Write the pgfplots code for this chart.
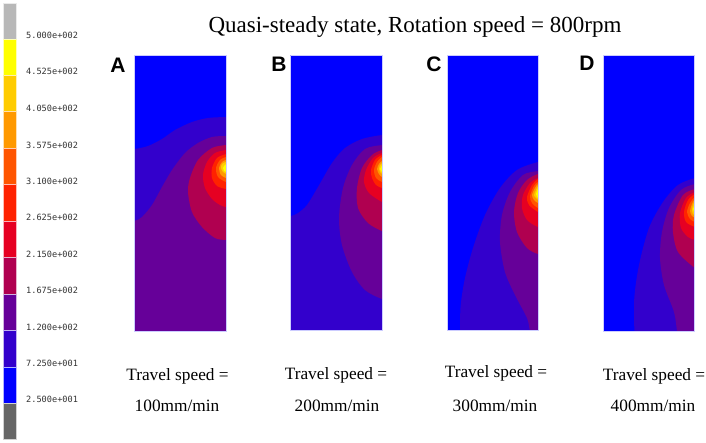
\documentclass[border=0pt]{standalone}
\usepackage{fontspec}
\setmainfont{Liberation Serif}
\newfontfamily\lettersf{Liberation Sans}
\newfontfamily\barfont{DejaVu Sans Mono}
\usepackage{pgfplots}
\pgfplotsset{compat=1.18}

\definecolor{c0}{HTML}{0000FF}
\definecolor{c1}{HTML}{3300CC}
\definecolor{c2}{HTML}{660099}
\definecolor{c3}{HTML}{B00050}
\definecolor{c4}{HTML}{E60022}
\definecolor{c5}{HTML}{FF2200}
\definecolor{c6}{HTML}{FF5500}
\definecolor{c7}{HTML}{FF9900}
\definecolor{c8}{HTML}{FFCC00}
\definecolor{c9}{HTML}{FFFF00}
\definecolor{edge}{HTML}{CCCCFF}

% one filled temperature level, in image pixels
\newcommand{\lv}[2]{\addplot[fill=#1,draw=none,smooth,forget plot] coordinates {#2};}
\newcommand{\cbar}[3]{\addplot[fill=#1,draw=white!70!#1,line width=0.5pt,forget plot] coordinates {(3.5,#2) (16.5,#2) (16.5,#3) (3.5,#3) (3.5,#2)};}
\pgfplotsset{panel/.style={scale only axis,hide axis,y dir=reverse,anchor=north west}}

\begin{document}
\begin{tikzpicture}[x=1pt,y=1pt]
\path[use as bounding box] (0,0) rectangle (706,442);

% A
\begin{axis}[panel,at={(134.3pt,386.3pt)},width=91.7pt,height=275.3pt,xmin=134.3,xmax=226,ymin=55.7,ymax=331]
\addplot[fill=c0,draw=none,forget plot] coordinates {(120,40) (240,40) (240,345) (120,345) (120,40)};
\lv{c1}{(120,150) (134.3,149) (148,146) (162,139) (175,130) (192,122) (208,118) (226,117) (240,117) (300,200) (300,400) (100,400)}
\lv{c2}{(120,222) (134.3,221) (142,217) (152,205) (162,187) (172,170) (185,153) (198,143) (212,137) (226,136) (240,136) (300,200) (300,400) (100,400)}
\lv{c3}{(236,144) (226,145) (212,148) (198,160) (190,178) (188,192) (192,212) (202,227) (215,238) (226,240) (236,240)}
\lv{c4}{(234,149) (226,150) (215,153) (207,162) (203,175) (205,188) (212,199) (220,205) (226,207) (234,208)}
\lv{c5}{(233,152) (226,154) (217,158) (212,168) (212,178) (217,186) (226,189) (233,190)}
\lv{c6}{(232,156) (226,157) (220,160) (216,168) (218,177) (226,182) (232,183)}
\lv{c7}{(231,159) (226,160) (222,162) (219,168) (221,175) (226,178) (231,179)}
\lv{c8}{(230,161) (226,162) (222,164) (221,168) (223,172) (226,174) (230,175)}
\lv{c9}{(229,163) (226,164) (224,166) (223,168) (224,171) (226,172) (229,173)}
\end{axis}

% B
\begin{axis}[panel,at={(290.7pt,386.3pt)},width=91.6pt,height=275pt,xmin=290.7,xmax=382.3,ymin=55.7,ymax=330.7]
\addplot[fill=c0,draw=none,forget plot] coordinates {(275,40) (400,40) (400,345) (275,345) (275,40)};
\lv{c1}{(278,217) (290.7,216) (298,213) (307,205) (318,187) (332,163) (345,148) (362,139) (382,135) (396,134) (460,200) (460,400) (260,400)}
\lv{c2}{(392,144) (382,145) (365,149) (352,165) (343,188) (339,218) (342,245) (352,272) (365,290) (382,299) (392,300)}
\lv{c3}{(390,149) (382,150) (372,155) (362,168) (357,188) (358,208) (368,223) (382,231) (390,232)}
\lv{c4}{(390,152) (382,153) (373,158) (366,170) (364,182) (369,193) (382,202) (390,204)}
\lv{c5}{(389,154) (382,155) (375,160) (371,170) (372,178) (376,185) (382,188) (389,190)}
\lv{c6}{(388,156) (382,157) (377,162) (374,170) (376,178) (382,182) (388,183)}
\lv{c7}{(387,160) (382,161) (379,164) (377,169) (379,174) (382,177) (387,178)}
\lv{c8}{(386,162) (382,163) (380,165) (379,169) (380,172) (382,174) (386,175)}
\lv{c9}{(385,164) (382,165) (381,167) (380,169) (381,171) (382,172) (385,173)}
\end{axis}

% C
\begin{axis}[panel,at={(447.3pt,386.3pt)},width=91pt,height=274.6pt,xmin=447.3,xmax=538.3,ymin=55.7,ymax=330.3]
\addplot[fill=c0,draw=none,forget plot] coordinates {(430,40) (555,40) (555,345) (430,345) (430,40)};
\lv{c1}{(460,345) (460,330.5) (460.7,305) (465,278) (473,248) (485,215) (500,188) (517,170) (538,162) (552,160) (620,200) (620,400) (460,400)}
\lv{c2}{(552,169) (538,171) (523,175) (510,192) (502,215) (500,242) (505,272) (515,295) (527,318) (530,331) (535,345) (560,350) (560,200)}
\lv{c3}{(548,173) (538,174) (527,180) (518,193) (514,212) (517,232) (527,248) (538,254) (548,255)}
\lv{c4}{(546,177) (538,178) (530,183) (523,195) (522,208) (527,220) (538,227) (546,228)}
\lv{c5}{(545,178) (538,179) (532,185) (527,197) (529,205) (538,212) (545,214)}
\lv{c6}{(544,181) (538,182) (534,186) (530,196) (532,203) (538,208) (544,209)}
\lv{c7}{(543,183) (538,184) (535,188) (532,195) (534,200) (538,203) (543,204)}
\lv{c8}{(542,185) (538,186) (536,190) (534,195) (536,198) (538,200) (542,201)}
\lv{c9}{(541,187) (538,188) (537,191) (536,194) (537,197) (538,198) (541,199)}
\end{axis}

% D
\begin{axis}[panel,at={(603.3pt,386.3pt)},width=91.4pt,height=275.3pt,xmin=603.3,xmax=694.7,ymin=55.7,ymax=331]
\addplot[fill=c0,draw=none,forget plot] coordinates {(590,40) (710,40) (710,345) (590,345) (590,40)};
\lv{c1}{(634.3,345) (634.3,331) (634.3,298) (639,265) (649,228) (663,202) (678,185) (695,178) (708,176) (770,200) (770,400) (634,400)}
\lv{c2}{(708,183) (695,184) (681,190) (669,208) (662,232) (660,258) (664,285) (674,312) (677,331) (679,345) (710,350) (720,200)}
\lv{c3}{(704,188) (695,189) (683,195) (674,215) (673,232) (678,252) (695,268) (704,270)}
\lv{c4}{(703,191) (695,192) (686,198) (680,213) (681,228) (688,237) (695,240) (703,241)}
\lv{c5}{(702,193) (695,194) (688,200) (684,212) (686,222) (695,227) (702,228)}
\lv{c6}{(701,196) (695,197) (690,203) (687,212) (690,219) (695,222) (701,223)}
\lv{c7}{(700,198) (695,199) (692,204) (690,211) (692,216) (695,218) (700,219)}
\lv{c8}{(699,200) (695,201) (693,205) (692,210) (693,214) (695,216) (699,217)}
\lv{c9}{(698,202) (695,203) (694,206) (693,209) (694,212) (695,214) (698,215)}
\end{axis}

% colour bar, panel outlines and all text
\begin{axis}[scale only axis,hide axis,y dir=reverse,anchor=north west,at={(0pt,442pt)},
  width=706pt,height=442pt,xmin=0,xmax=706,ymin=0,ymax=442,clip=false]
\cbar{black!28}{3}{39}
\cbar{c9}{39}{75.7}
\cbar{c8}{75.7}{111.7}
\cbar{c7}{111.7}{148}
\cbar{c6}{148}{184}
\cbar{c5}{184}{221}
\cbar{c4}{221}{257}
\cbar{c3}{257}{294}
\cbar{c2}{294}{330}
\cbar{c1}{330}{367}
\cbar{c0}{367}{403}
\cbar{black!60}{403}{439}
\addplot[edge,line width=0.5pt,forget plot] coordinates {(134.3,55.7) (226,55.7) (226,331) (134.3,331) (134.3,55.7)};
\addplot[edge,line width=0.5pt,forget plot] coordinates {(290.7,55.7) (382.3,55.7) (382.3,330.7) (290.7,330.7) (290.7,55.7)};
\addplot[edge,line width=0.5pt,forget plot] coordinates {(447.3,55.7) (538.3,55.7) (538.3,330.3) (447.3,330.3) (447.3,55.7)};
\addplot[edge,line width=0.5pt,forget plot] coordinates {(603.3,55.7) (694.7,55.7) (694.7,331) (603.3,331) (603.3,55.7)};

\foreach \lab/\yy in {5.000e+002/35,4.525e+002/71.5,4.050e+002/108,3.575e+002/145,3.100e+002/181,2.625e+002/217.5,2.150e+002/254,1.675e+002/290,1.200e+002/327,7.250e+001/363,2.500e+001/399.5}{
  \edef\tmp{\noexpand\node[anchor=west,inner sep=0pt,text=black!80,font=\noexpand\barfont\noexpand\fontsize{8.6}{10}\noexpand\selectfont] at (axis cs:26,\yy) {\lab};}
  \tmp
}

\node[inner sep=0pt,font=\fontsize{23}{27}\selectfont] at (axis cs:415,27) {Quasi-steady state, Rotation speed = 800rpm};

\node[inner sep=0pt,font=\lettersf\bfseries\fontsize{21}{25}\selectfont] at (axis cs:118,65) {A};
\node[inner sep=0pt,font=\lettersf\bfseries\fontsize{21}{25}\selectfont] at (axis cs:279,64) {B};
\node[inner sep=0pt,font=\lettersf\bfseries\fontsize{21}{25}\selectfont] at (axis cs:434,64) {C};
\node[inner sep=0pt,font=\lettersf\bfseries\fontsize{21}{25}\selectfont] at (axis cs:587,63) {D};

\node[inner sep=0pt,font=\fontsize{17.3}{20}\selectfont] at (axis cs:177.5,376) {Travel speed =};
\node[inner sep=0pt,font=\fontsize{17.3}{20}\selectfont] at (axis cs:177,406) {100mm/min};
\node[inner sep=0pt,font=\fontsize{17.3}{20}\selectfont] at (axis cs:336,375) {Travel speed =};
\node[inner sep=0pt,font=\fontsize{17.3}{20}\selectfont] at (axis cs:337,406) {200mm/min};
\node[inner sep=0pt,font=\fontsize{17.3}{20}\selectfont] at (axis cs:496,373) {Travel speed =};
\node[inner sep=0pt,font=\fontsize{17.3}{20}\selectfont] at (axis cs:495,406) {300mm/min};
\node[inner sep=0pt,font=\fontsize{17.3}{20}\selectfont] at (axis cs:654,376) {Travel speed =};
\node[inner sep=0pt,font=\fontsize{17.3}{20}\selectfont] at (axis cs:653,406) {400mm/min};
\end{axis}
\end{tikzpicture}
\end{document}
